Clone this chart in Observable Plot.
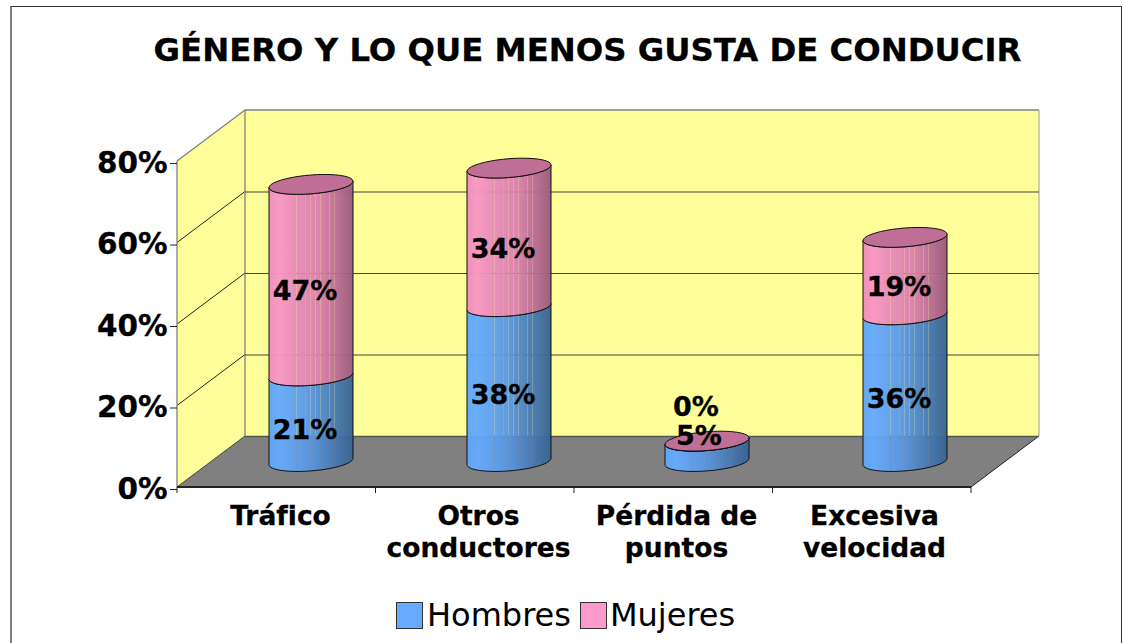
<!DOCTYPE html>
<html lang="es">
<head>
<meta charset="utf-8">
<script src="https://cdn.jsdelivr.net/npm/d3@7"></script>
<script src="https://cdn.jsdelivr.net/npm/@observablehq/plot@0.6"></script>
<style>
  html, body { margin: 0; padding: 0; background: #fff; }
  body { width: 1123px; height: 643px; overflow: hidden; position: relative; font-family: "DejaVu Sans", sans-serif; color: #000; }
  #frame { position: absolute; left: 10px; top: 6px; width: 1109px; height: 700px; border: 1px solid #333; border-left: 2px solid #7f7f7f; box-sizing: content-box; }
  #title { position: absolute; left: 10px; width: 1155px; top: 29px; text-align: center; font-size: 32.3px; font-weight: bold; line-height: 42px; white-space: nowrap; -webkit-text-stroke: 0.3px #000; }
  #chart { position: absolute; left: 0; top: 100px; }
  #chart text { stroke-width: 0.3px; stroke: #000; }
  #legend { position: absolute; top: 596px; left: 396px; display: flex; align-items: center; font-size: 32px; line-height: 38px; white-space: nowrap; }
  #legend .sw { width: 27px; height: 27px; border: 1px solid #333; box-sizing: border-box; margin-right: 4px; }
  #legend .item { display: flex; align-items: center; margin-right: 9px; }
  #legend .item + .item .sw { margin-right: 3px; }
</style>
</head>
<body>
<div id="frame"></div>
<div id="title">GÉNERO Y LO QUE MENOS GUSTA DE CONDUCIR</div>
<div id="chart"></div>
<div id="legend"></div>
<script>
const categories = ["Tráfico", "Otros\nconductores", "Pérdida de\npuntos", "Excesiva\nvelocidad"];
const hombres = [21, 38, 5, 36];
const mujeres = [47, 34, 0, 19];
const yTicks = [0, 20, 40, 60, 80];
const seriesNames = ["Hombres", "Mujeres"];
const seriesColors = ["#66aaff", "#ff99cc"];

// Long table for the stack: men first, women on top.
const table = [
  ...categories.map((c, i) => ({cat: c, serie: seriesNames[0], v: hombres[i]})),
  ...categories.map((c, i) => ({cat: c, serie: seriesNames[1], v: mujeres[i]}))
];

// The 3D look: depth of the box and of the cylinder ellipses.
const DEPTH_X = 68, DEPTH_Y = -51, TILT = 3.2, MINOR = 9.4;
const WIDTH = 1123, HEIGHT = 470;

const ns = "http://www.w3.org/2000/svg";
function gradient(id, ramp) {
  const stripes = [.13, .19, .33, .43, .49, .55, .61, .72, .78, .88];
  const color = t => {
    const k = ramp.length - 1, p = ramp.findIndex((_, j) => j < k && t <= ramp[j + 1][0]);
    const a = ramp[p], b = ramp[p + 1];
    return d3.interpolateRgb(a[1], b[1])((t - a[0]) / (b[0] - a[0]));
  };
  const g = document.createElementNS(ns, "linearGradient");
  g.setAttribute("id", id);
  const stop = (t, o) => {
    const s = document.createElementNS(ns, "stop");
    s.setAttribute("offset", t);
    s.setAttribute("stop-color", color(t));
    s.setAttribute("stop-opacity", o);
    g.appendChild(s);
  };
  stop(0, .96);
  for (const f of stripes) { stop(f - .005, .96); stop(f - .004, .74); stop(f + .004, .74); stop(f + .005, .96); }
  stop(1, .96);
  return g;
}

// Back walls and floor, placed with the y scale and the frame of the plot.
function box(index, {y}, values, {width, height, marginLeft, marginRight}) {
  const L = marginLeft, R = width - marginRight, B = y(0), T = y(80);
  const g = d3.create("svg:g");
  const poly = (pts, fill) => g.append("polygon").attr("points", pts.map(p => p.join(",")).join(" ")).attr("fill", fill);
  poly([[L, B], [L + DEPTH_X, B + DEPTH_Y], [L + DEPTH_X, T + DEPTH_Y], [L, T]], "#ffff99");
  poly([[L + DEPTH_X, B + DEPTH_Y], [R + DEPTH_X, B + DEPTH_Y], [R + DEPTH_X, T + DEPTH_Y], [L + DEPTH_X, T + DEPTH_Y]], "#ffff99");
  poly([[L, B], [R, B], [R + DEPTH_X, B + DEPTH_Y], [L + DEPTH_X, B + DEPTH_Y]], "#808080");
  const line = (x1, y1, x2, y2, stroke, w = 1) => g.append("line").attr("x1", x1).attr("y1", y1).attr("x2", x2).attr("y2", y2).attr("stroke", stroke).attr("stroke-width", w);
  for (const t of yTicks.slice(1, -1)) line(L, y(t), L + DEPTH_X, y(t) + DEPTH_Y, "#222");
  line(L, T, L + DEPTH_X, T + DEPTH_Y, "#808080", 1.3);
  line(L + DEPTH_X, T + DEPTH_Y, R + DEPTH_X, T + DEPTH_Y, "#808080", 1.3);
  line(L + DEPTH_X, T + DEPTH_Y, L + DEPTH_X, B + DEPTH_Y, "#808080", 1.3);
  line(R + DEPTH_X, T + DEPTH_Y, R + DEPTH_X, B + DEPTH_Y, "#b0b0b0", 1.3);
  line(L, T, L, B, "#808080", 1.3);
  line(L, B, L + DEPTH_X, B + DEPTH_Y, "#444");
  line(R, B, R + DEPTH_X, B + DEPTH_Y, "#222");
  line(L, B, R, B, "#222", 2);
  const step = (R - L) / categories.length;
  for (let i = 0; i <= categories.length; ++i) line(L + i * step, B, L + i * step, B + 6, "#222");
  return g.node();
}

// Each stacked bar of Plot is redrawn as a slice of a cylinder at mid depth.
function cylinder(index, scales, values) {
  const {x: X, y1: Y1, y2: Y2} = values;
  const rx = scales.x.bandwidth() / 2;
  const g = d3.create("svg:g").attr("stroke", "#111").attr("stroke-width", 1);
  const arc = (cx, cy, from, to) => d3.range(0, 41).map(k => {
    const t = from + (to - from) * k / 40;
    return [cx + rx * Math.cos(t), cy + MINOR * Math.sin(t) - TILT * Math.cos(t)];
  });
  for (const i of index) {
    const cx = X[i] + rx + DEPTH_X / 2;
    const lo = Y1[i] + DEPTH_Y / 2, hi = Y2[i] + DEPTH_Y / 2;
    const fillId = table[i].serie === seriesNames[0] ? "cylH" : "cylM";
    const pts = [...arc(cx, lo, Math.PI, 0), ...arc(cx, hi, 0, Math.PI)];
    g.append("path").attr("d", d3.line()(pts) + "Z").attr("fill", `url(#${fillId})`);
    if (table[i].serie === seriesNames[1]) {
      g.append("path").attr("d", d3.line()(arc(cx, hi, 0, 2 * Math.PI)) + "Z").attr("fill", "#bf6f96");
    }
  }
  return g.node();
}

const labelFont = {fontSize: 27, fontWeight: "bold", fill: "#000", text: d => d.v + "%", x: "cat", y: "v"};
const isBig = d => d.v >= 10;

const plot = Plot.plot({
  width: WIDTH,
  height: HEIGHT,
  marginLeft: 177,
  marginRight: 152,
  marginTop: 61,
  marginBottom: 83,
  style: {fontFamily: "DejaVu Sans", background: "transparent", overflow: "visible"},
  x: {domain: categories, paddingInner: 0.577, paddingOuter: 0.2885, align: 0.5, label: null},
  y: {domain: [0, 80], label: null},
  marks: [
    box,
    Plot.ruleY(yTicks.slice(1, -1), {dx: DEPTH_X, dy: DEPTH_Y, stroke: "#444", strokeWidth: 1}),
    Plot.ruleY([0], {dx: DEPTH_X, dy: DEPTH_Y, stroke: "#555", strokeWidth: 1.5}),
    Plot.barY(table, {x: "cat", y: "v", render: cylinder}),
    Plot.text(table, Plot.stackY({...labelFont, dx: 27.5, dy: -14.5, filter: isBig})),
    Plot.text(table, Plot.stackY({...labelFont, dx: 25.5, dy: -41, filter: d => !isBig(d) && d.v > 0})),
    Plot.text(table, Plot.stackY({...labelFont, dx: 22.5, dy: -80, filter: d => d.v === 0})),
    Plot.axisY({ticks: yTicks, tickFormat: d => d + "%", tickSize: 7, tickPadding: 3, fontSize: 29.5, fontWeight: "bold", fill: "#000", stroke: "#222", dy: 2, label: null}),
    Plot.axisX({tickSize: 0, tickPadding: 15, fontSize: 26.5, fontWeight: "bold", fill: "#000", lineHeight: 1.2, dx: 3, label: null})
  ]
});

// Gradients used by the cylinders.
const defs = document.createElementNS(ns, "defs");
const blueRamp = [[0, "#5fa5f6"], [.1, "#66abff"], [.5, "#5a96de"], [1, "#38628f"]];
const pinkRamp = [[0, "#ee8dbc"], [.1, "#fb97c8"], [.3, "#e88cb9"], [.6, "#da80ad"], [1, "#985a7c"]];
defs.appendChild(gradient("cylH", blueRamp));
defs.appendChild(gradient("cylM", pinkRamp));
plot.insertBefore(defs, plot.firstChild);
document.getElementById("chart").appendChild(plot);

const legend = document.getElementById("legend");
seriesNames.forEach((name, i) => {
  const item = document.createElement("div");
  item.className = "item";
  const sw = document.createElement("div");
  sw.className = "sw";
  sw.style.background = seriesColors[i];
  const label = document.createElement("span");
  label.textContent = name;
  item.append(sw, label);
  legend.appendChild(item);
});
</script>
</body>
</html>
